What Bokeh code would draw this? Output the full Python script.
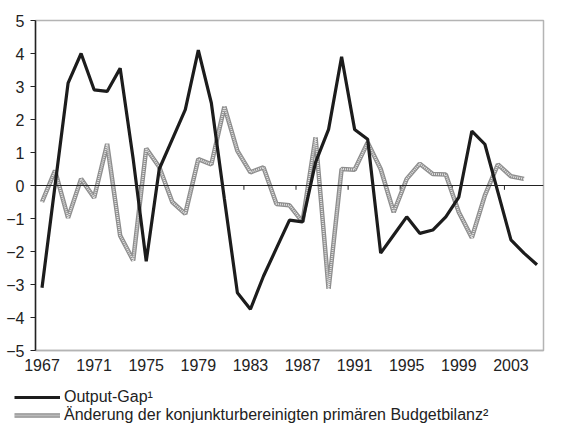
from bokeh.plotting import figure
from bokeh.layouts import column
from bokeh.models import (Range1d, FixedTicker, Span, Legend, LegendItem,
                          ColumnDataSource)
from bokeh.embed import file_html
from bokeh.resources import INLINE

years = list(range(1967, 2006))
output_gap = [-3.1, 0.0, 3.1, 4.0, 2.9, 2.85, 3.55, 0.8, -2.3, 0.5,
              1.4, 2.3, 4.1, 2.5, -0.4, -3.25, -3.75, -2.75, -1.9, -1.05,
              -1.1, 0.7, 1.7, 3.9, 1.7, 1.4, -2.05, -1.5, -0.95, -1.45,
              -1.35, -0.95, -0.35, 1.65, 1.25, -0.2, -1.65, -2.05, -2.4]
budget_years = list(range(1967, 2005))
budget_change = [-0.5, 0.45, -0.98, 0.2, -0.37, 1.26, -1.52, -2.27, 1.12, 0.56,
                 -0.5, -0.86, 0.8, 0.64, 2.39, 1.05, 0.4, 0.55, -0.56, -0.6,
                 -1.1, 1.46, -3.13, 0.5, 0.48, 1.3, 0.5, -0.81, 0.2, 0.66,
                 0.35, 0.33, -0.81, -1.58, -0.3, 0.64, 0.28, 0.2]
x_tick_years = list(range(1967, 2004, 4))
y_ticks = list(range(-5, 6))
label_gap = "Output-Gap\u00b9"
label_budget = "\u00c4nderung der konjunkturbereinigten prim\u00e4ren Budgetbilanz\u00b2"

FONT = "Liberation Sans"
FS = "16px"
DARK = "#222222"
GAP_STYLE = dict(line_color="#1c1c1c", line_width=3.2)
BUD_BASE = dict(line_color="#8e8e8e", line_width=4.5)
BUD_DOTS = dict(line_color="#e6e6e6", line_width=2, line_dash="1 1")

p = figure(frame_width=508, frame_height=330, output_backend="svg",
           toolbar_location=None,
           x_range=Range1d(years[0] - 0.5, years[-1] + 0.5),
           y_range=Range1d(-5, 5),
           min_border_left=35, min_border_top=20, min_border_right=6,
           min_border_bottom=21)
p.background_fill_color = "white"
p.border_fill_color = "white"
p.outline_line_color = "#b4b4b4"
p.outline_line_width = 1.5
p.grid.visible = False

# y axis
p.yaxis.ticker = FixedTicker(ticks=y_ticks)
p.yaxis.axis_line_color = DARK
p.yaxis.axis_line_width = 1.5
p.yaxis.major_tick_line_color = DARK
p.yaxis.major_tick_out = 5
p.yaxis.major_tick_in = 0
p.yaxis.minor_tick_line_color = None
p.yaxis.major_label_text_font = FONT
p.yaxis.major_label_text_font_size = FS
p.yaxis.major_label_text_color = DARK
p.yaxis.major_label_standoff = 6

# x axis
p.xaxis.ticker = FixedTicker(ticks=x_tick_years)
p.xaxis.axis_line_color = "#b4b4b4"
p.xaxis.axis_line_width = 1.5
p.xaxis.major_tick_line_color = None
p.xaxis.minor_tick_line_color = None
p.xaxis.major_label_text_font = FONT
p.xaxis.major_label_text_font_size = FS
p.xaxis.major_label_text_color = DARK
p.xaxis.major_label_standoff = 2

# zero line with category ticks
p.add_layout(Span(location=0, dimension="width", line_color=DARK, line_width=1))
bounds = [y - 0.5 for y in years[4:-1:4]]
p.segment(x0=bounds, x1=bounds, y0=[0] * len(bounds), y1=[-0.13] * len(bounds),
          line_color=DARK, line_width=1)

# series
src_b = ColumnDataSource(dict(x=budget_years, y=budget_change))
p.line("x", "y", source=src_b, **BUD_BASE)
p.line("x", "y", source=src_b, **BUD_DOTS)
src_g = ColumnDataSource(dict(x=years, y=output_gap))
p.line("x", "y", source=src_g, **GAP_STYLE)

# legend panel below the chart (sample lines kept outside the visible range)
q = figure(frame_width=549, frame_height=56, output_backend="svg",
           toolbar_location=None, x_axis_type=None, y_axis_type=None,
           x_range=Range1d(0, 1), y_range=Range1d(0, 1),
           min_border_left=0, min_border_right=0, min_border_top=0,
           min_border_bottom=0, outline_line_color=None)
q.grid.visible = False
hidden = ColumnDataSource(dict(x=[5, 6], y=[5, 6]))
lg = q.line("x", "y", source=hidden, **GAP_STYLE)
lb1 = q.line("x", "y", source=hidden, **BUD_BASE)
lb2 = q.line("x", "y", source=hidden, **BUD_DOTS)
legend = Legend(items=[LegendItem(label=label_gap, renderers=[lg]),
                       LegendItem(label=label_budget, renderers=[lb1, lb2])],
                location=(14, 5), orientation="vertical",
                glyph_width=46, glyph_height=16, label_height=16,
                label_standoff=4, spacing=0, padding=0, margin=0,
                border_line_alpha=0, background_fill_alpha=0,
                label_text_font=FONT, label_text_font_size=FS,
                label_text_color=DARK)
q.add_layout(legend)

layout = column(p, q, spacing=0)
open("out.html", "w").write(file_html(layout, INLINE))
